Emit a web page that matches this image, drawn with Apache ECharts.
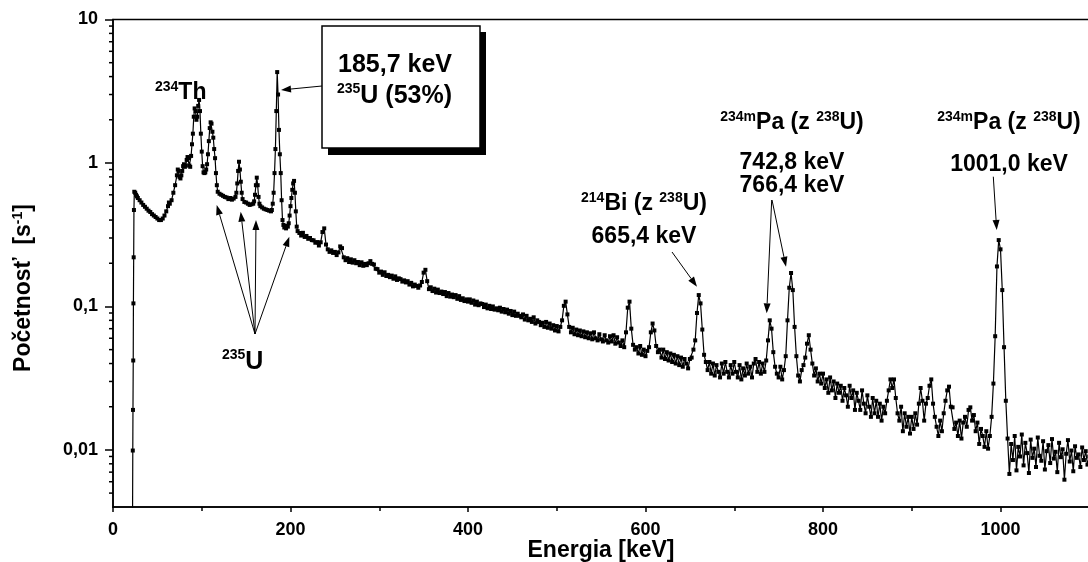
<!DOCTYPE html>
<html style="height: 100%">

<head>
  <meta charset="utf-8">
  <title>Gama spektrum</title>
</head>

<body style="height: 100%; margin: 0; background: #fff">
  <div id="container" style="width: 1088px; height: 562px"></div>
  <script type="text/javascript" src="https://cdn.jsdelivr.net/npm/echarts@6/dist/echarts.min.js"></script>
  <script type="text/javascript">
    // low energy part, [keV, 1/s]
    var lowSpectrum = [
      [22, 0.003], [22.3, 0.0099], [22.5, 0.019], [22.8, 0.042], [23, 0.105], [23.3, 0.22], [23.6, 0.47], [24, 0.63],
      [25, 0.62], [26, 0.6], [27, 0.585], [28, 0.57], [30, 0.55], [32, 0.53], [34, 0.51], [36, 0.495], [38, 0.48],
      [40, 0.465], [42, 0.455], [44, 0.44], [46, 0.43], [48, 0.42], [50, 0.41], [52, 0.4], [54, 0.4], [56, 0.41],
      [58, 0.43], [60, 0.46], [62, 0.5], [63, 0.53], [64, 0.52], [66, 0.55], [68, 0.62], [70, 0.7], [72, 0.82],
      [73, 0.9], [74, 0.88], [75, 0.8], [76, 0.78], [77, 0.82], [78, 0.88], [79, 0.95], [80, 0.98], [81, 0.94],
      [82, 0.96], [83, 1.05], [84, 1.1], [85, 1.08], [86, 0.96], [87, 0.94], [88, 1.12], [89, 1.35], [90, 1.6],
      [91, 2.1], [92, 2.4], [93, 2.3], [94, 2.0], [95, 2.1], [96, 2.5], [97, 2.75], [98, 2.3], [99, 1.6], [100, 1.2],
      [101, 0.95], [102, 0.86], [103, 0.85], [104, 0.86], [105, 0.9], [106, 0.98], [107, 1.15], [108, 1.42],
      [109, 1.75], [110, 1.92], [111, 1.88], [112, 1.65], [113, 1.5], [114, 1.25], [115, 1.08], [116, 0.85],
      [117, 0.7], [118, 0.63], [120, 0.61], [122, 0.6], [124, 0.59], [126, 0.58], [128, 0.575], [130, 0.56],
      [132, 0.57], [134, 0.555], [136, 0.565], [138, 0.58], [139, 0.62], [140, 0.72], [141, 0.88], [142, 1.02],
      [143, 0.9], [144, 0.74], [145, 0.62], [146, 0.56], [148, 0.535], [150, 0.53], [152, 0.52], [154, 0.51],
      [156, 0.515], [158, 0.52], [159, 0.54], [160, 0.6], [161, 0.7], [162, 0.79], [163, 0.7], [164, 0.58],
      [165, 0.52], [166, 0.5], [168, 0.49], [170, 0.48], [172, 0.475], [174, 0.47], [176, 0.465], [178, 0.46],
      [179, 0.47], [180, 0.52], [181, 0.62], [182, 0.85], [183, 1.25], [184, 2.3], [185, 4.3], [186, 3.0],
      [187, 1.7], [188, 1.15], [189, 0.85], [190, 0.55], [191, 0.4], [192, 0.37], [193, 0.355], [194, 0.36],
      [195, 0.35], [196, 0.365], [197, 0.36], [198, 0.38], [199, 0.43], [200, 0.5], [201, 0.57], [202, 0.65],
      [203, 0.72], [204, 0.75], [205, 0.62], [206, 0.46], [207, 0.36], [208, 0.335]
    ];

    // channels 2 keV wide from here on
    var channelStep = 2;
    var counts210 = [
      0.325, 0.312, 0.326, 0.305, 0.31, 0.296, 0.3, 0.29, 0.289, 0.278,
      0.281, 0.266, 0.28, 0.33, 0.35, 0.27, 0.25, 0.24, 0.246, 0.236,
      0.24, 0.228, 0.238, 0.262, 0.255, 0.22, 0.21, 0.217, 0.204, 0.213,
      0.202, 0.21, 0.2, 0.204, 0.194, 0.203, 0.192, 0.198, 0.194, 0.2,
      0.207, 0.198, 0.196, 0.183, 0.182, 0.172, 0.175, 0.166, 0.173, 0.163,
      0.166, 0.16, 0.164, 0.156, 0.162, 0.153, 0.157, 0.155, 0.149, 0.152,
      0.147, 0.15, 0.142, 0.146, 0.138, 0.142, 0.139, 0.135, 0.14, 0.148,
      0.172, 0.18, 0.15, 0.132, 0.136, 0.128, 0.133, 0.125, 0.131, 0.124,
      0.127, 0.122, 0.126, 0.118, 0.124, 0.117, 0.121, 0.116, 0.12, 0.113,
      0.118, 0.111, 0.114, 0.109, 0.112
    ];
    var counts400 = [
      0.108, 0.112, 0.106, 0.11, 0.103, 0.108, 0.102, 0.105, 0.104, 0.099,
      0.103, 0.097, 0.101, 0.096, 0.1, 0.095, 0.097, 0.094, 0.098, 0.092,
      0.096, 0.091, 0.095, 0.089, 0.093, 0.087, 0.092, 0.086, 0.089, 0.086,
      0.084, 0.088, 0.081, 0.086, 0.08, 0.082, 0.078, 0.084, 0.076, 0.08,
      0.078, 0.074, 0.077, 0.072, 0.078, 0.071, 0.076, 0.07, 0.074, 0.068,
      0.073, 0.067, 0.072, 0.08, 0.101, 0.108, 0.088, 0.072, 0.066, 0.071,
      0.064, 0.069, 0.063, 0.068, 0.062, 0.067, 0.061, 0.066, 0.06, 0.065,
      0.059, 0.066, 0.06, 0.058, 0.064, 0.059, 0.057, 0.063, 0.058, 0.056,
      0.062, 0.057, 0.063, 0.055, 0.061, 0.056, 0.053, 0.058, 0.052, 0.066,
      0.098, 0.108, 0.07, 0.054, 0.05, 0.052, 0.047, 0.053, 0.046, 0.05
    ];
    var counts600 = [
      0.045, 0.049, 0.052, 0.066, 0.076, 0.068, 0.053, 0.048, 0.05, 0.044,
      0.05, 0.043, 0.048, 0.042, 0.047, 0.041, 0.046, 0.04, 0.045, 0.039,
      0.044, 0.038, 0.043, 0.04, 0.037, 0.043, 0.044, 0.05, 0.058, 0.09,
      0.12, 0.105, 0.069, 0.046, 0.041, 0.036, 0.041, 0.034, 0.04, 0.033,
      0.039, 0.035, 0.032, 0.04, 0.034, 0.041, 0.035, 0.032, 0.039, 0.034,
      0.041, 0.035, 0.032, 0.039, 0.031, 0.037, 0.033, 0.04, 0.034, 0.038,
      0.032, 0.04, 0.043, 0.035, 0.041, 0.034, 0.04, 0.035, 0.042, 0.058,
      0.08, 0.07, 0.048, 0.038, 0.034, 0.032, 0.038, 0.031, 0.036, 0.045,
      0.08, 0.135, 0.171, 0.13, 0.072, 0.045, 0.033, 0.03, 0.036, 0.039,
      0.044, 0.055, 0.063, 0.05, 0.04, 0.033, 0.037, 0.03, 0.034, 0.029
    ];
    var counts800 = [
      0.034, 0.027, 0.031, 0.025, 0.032, 0.026, 0.03, 0.023, 0.029, 0.025,
      0.028, 0.022, 0.027, 0.024, 0.02, 0.028, 0.023, 0.026, 0.019, 0.025,
      0.022, 0.019, 0.026, 0.021, 0.018, 0.024, 0.02, 0.017, 0.023, 0.018,
      0.022, 0.017, 0.021, 0.016, 0.02, 0.018, 0.022, 0.026, 0.031, 0.027,
      0.031, 0.023, 0.018, 0.016, 0.02, 0.0135, 0.018, 0.0145, 0.017, 0.013,
      0.017, 0.014, 0.018, 0.015, 0.021, 0.027, 0.022, 0.016, 0.021, 0.023,
      0.028, 0.031, 0.021, 0.017, 0.0145, 0.0125, 0.016, 0.0135, 0.018, 0.022,
      0.026, 0.0276, 0.02, 0.0198, 0.014, 0.0155, 0.0125, 0.016, 0.012, 0.0155,
      0.017, 0.0145, 0.019, 0.0198, 0.016, 0.0175, 0.0135, 0.0155, 0.011, 0.014,
      0.0125, 0.0105, 0.0135, 0.0102, 0.0125, 0.017, 0.029, 0.062, 0.19, 0.29
    ];
    var counts1000 = [
      0.25, 0.13, 0.052, 0.022, 0.012, 0.0068, 0.011, 0.0085, 0.0125, 0.0072,
      0.0105, 0.009, 0.0128, 0.0078, 0.0112, 0.0095, 0.0069, 0.0118, 0.0088, 0.0102,
      0.0076, 0.0122, 0.0091, 0.0084, 0.0115, 0.0073, 0.0098, 0.0108, 0.0081, 0.0119,
      0.0087, 0.0097, 0.007, 0.0112, 0.0089, 0.0101, 0.0062, 0.0094, 0.0117, 0.0083,
      0.0099, 0.0071, 0.0106, 0.0088, 0.0093, 0.0076, 0.0104, 0.0085, 0.0098, 0.0079,
      0.009
    ];

    var yMinorTicks = [0.005, 0.006, 0.007, 0.008, 0.009, 0.02, 0.03, 0.04, 0.05, 0.06, 0.07, 0.08, 0.09,
      0.2, 0.3, 0.4, 0.5, 0.6, 0.7, 0.8, 0.9, 2, 3, 4, 5, 6, 7, 8, 9];

    function withEnergy(start, counts) {
      return counts.map(function (c, i) { return [start + i * channelStep, c]; });
    }
    var spectrum = lowSpectrum
      .concat(withEnergy(210, counts210))
      .concat(withEnergy(400, counts400))
      .concat(withEnergy(600, counts600))
      .concat(withEnergy(800, counts800))
      .concat(withEnergy(1000, counts1000));

    var FONT = 'Arial, "Liberation Sans", sans-serif';
    var rich = {
      m: { fontSize: 23, fontWeight: 'bold', fontFamily: FONT, fill: '#000', lineHeight: 26 },
      b: { fontSize: 25, fontWeight: 'bold', fontFamily: FONT, fill: '#000', lineHeight: 28 },
      s: { fontSize: 14, fontWeight: 'bold', fontFamily: FONT, fill: '#000', lineHeight: 20, verticalAlign: 'top' }
    };

    function label(x, y, text, align, extra) {
      var el = {
        type: 'text', x: x, y: y, z: 20,
        style: { text: text, rich: rich, align: align || 'left', verticalAlign: 'middle',
          fontSize: 23, fontWeight: 'bold', fontFamily: FONT, fill: '#000' }
      };
      if (extra) Object.assign(el, extra);
      return el;
    }

    function arrow(x1, y1, x2, y2) {
      var dx = x2 - x1, dy = y2 - y1;
      var len = Math.sqrt(dx * dx + dy * dy);
      var ux = dx / len, uy = dy / len;
      var hl = 10, hw = 3.5;
      var bx = x2 - ux * hl, by = y2 - uy * hl;
      return [
        { type: 'line', z: 20, shape: { x1: x1, y1: y1, x2: bx, y2: by }, style: { stroke: '#000', lineWidth: 1 } },
        { type: 'polygon', z: 20, shape: { points: [[x2, y2], [bx - uy * hw, by + ux * hw], [bx + uy * hw, by - ux * hw]] },
          style: { fill: '#000' } }
      ];
    }

    var graphics = [
      // box with shadow
      { type: 'rect', z: 18, shape: { x: 328, y: 32, width: 158, height: 123 }, style: { fill: '#000' } },
      { type: 'rect', z: 19, shape: { x: 322, y: 26, width: 158, height: 122 }, style: { fill: '#fff', stroke: '#000', lineWidth: 1.5 } },
      label(338, 65, '{b|185,7 keV}'),
      label(337, 96, '{s|235}{b|U (53%)}'),
      label(155, 93, '{s|234}{m|Th}'),
      label(222, 362, '{s|235}{b|U}'),
      label(644, 204, '{s|214}{m|Bi (z }{s|238}{m|U)}', 'center'),
      label(644, 237, '{m|665,4 keV}', 'center'),
      label(792, 123, '{s|234m}{m|Pa (z }{s|238}{m|U)}', 'center'),
      label(792, 163, '{m|742,8 keV}', 'center'),
      label(792, 186, '{m|766,4 keV}', 'center'),
      label(1009, 123, '{s|234m}{m|Pa (z }{s|238}{m|U)}', 'center'),
      label(1009, 165, '{m|1001,0 keV}', 'center'),
      // axis names
      label(601, 551, '{m|Energia [keV]}', 'center'),
      label(24, 288, '{m|Početnosť  [s}{s|-1}{m|]}', 'center', { rotation: Math.PI / 2 })
    ]
      .concat(arrow(322, 86, 281, 90))
      .concat(arrow(255, 334, 216.7, 205))
      .concat(arrow(255, 334, 240.7, 211.7))
      .concat(arrow(255, 334, 256, 220))
      .concat(arrow(255, 334, 289.3, 236.7))
      .concat(arrow(672, 252, 697, 286.7))
      .concat(arrow(771.7, 200, 766.7, 313.3))
      .concat(arrow(772, 200, 786, 266.7))
      .concat(arrow(993.3, 176.7, 996.7, 230));

    var dom = document.getElementById('container');
    var myChart = echarts.init(dom);
    var option = {
      animation: false,
      backgroundColor: '#fff',
      grid: {
        left: 113, right: -90, top: 19.5, bottom: 55,
        show: true, borderColor: '#000', borderWidth: 1.5,
        outerBoundsMode: 'none'
      },
      xAxis: {
        type: 'value',
        min: 0, max: 1200, interval: 200,
        axisLine: { show: true, lineStyle: { color: '#000', width: 1.5 } },
        axisTick: { show: true, inside: false, length: 5, lineStyle: { color: '#000', width: 1.5 } },
        minorTick: { show: true, splitNumber: 2, length: 4, lineStyle: { color: '#000', width: 1.5 } },
        splitLine: { show: false },
        axisLabel: {
          margin: 14, color: '#000', fontSize: 18, fontWeight: 'bold', fontFamily: FONT,
          showMaxLabel: false,
          formatter: function (v) { return String(v); }
        }
      },
      yAxis: {
        type: 'log', logBase: 10,
        min: 0.004, max: 10,
        axisLine: { show: true, lineStyle: { color: '#000', width: 1.5 } },
        axisTick: { show: true, inside: false, length: 8, lineStyle: { color: '#000', width: 1.5 } },
        splitLine: { show: false },
        axisLabel: {
          margin: 15, color: '#000', fontSize: 18, fontWeight: 'bold', fontFamily: FONT,
          showMinLabel: false,
          formatter: function (v) { return String(+(+v).toPrecision(2)).replace('.', ','); }
        }
      },
      series: [{
        type: 'line',
        data: spectrum,
        symbol: 'rect',
        symbolSize: 4,
        showAllSymbol: true,
        clip: true,
        silent: true,
        lineStyle: { color: '#000', width: 1.2 },
        itemStyle: { color: '#000' }
      }, {
        type: 'custom',
        silent: true,
        clip: false,
        data: yMinorTicks.map(function (v) { return [0, v]; }),
        renderItem: function (params, api) {
          var p = api.coord([0, api.value(1)]);
          return {
            type: 'line',
            shape: { x1: p[0] - 4, y1: p[1], x2: p[0], y2: p[1] },
            style: { stroke: '#000', lineWidth: 1.5 }
          };
        }
      }],
      graphic: graphics
    };
    if (option && typeof option === "object") {
      myChart.setOption(option, true);
    }
  </script>
</body>

</html>
